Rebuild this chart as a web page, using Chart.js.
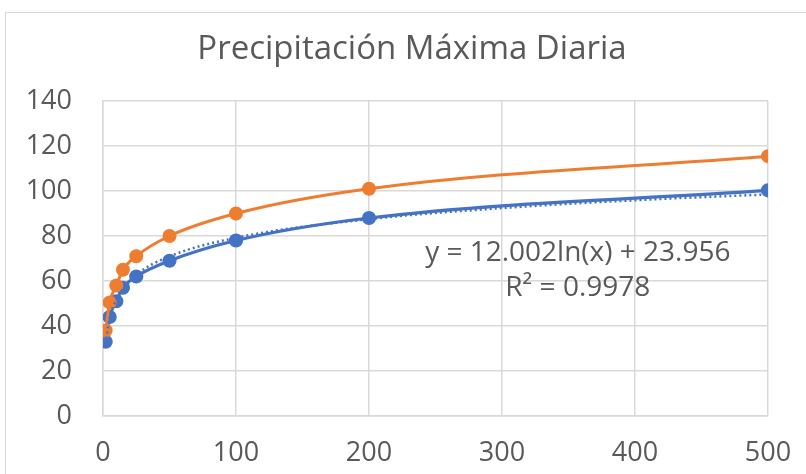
<!DOCTYPE html>
<html>
<head>
<meta charset="utf-8">
<script src="https://cdn.jsdelivr.net/npm/chart.js@4"></script>
<style>
  html, body { margin: 0; padding: 0; background: #fff; overflow: hidden; }
  #wrap { position: relative; width: 806px; height: 474px; }
  #frame { position: absolute; left: 5px; top: 12px; width: 820px; height: 480px; border: 1.5px solid #d9d9d9; box-sizing: border-box; }
  canvas { position: absolute; left: 0; top: 0; }
</style>
</head>
<body>
<div id="wrap">
  <div id="frame"></div>
  <canvas id="chart" width="806" height="474"></canvas>
</div>
<script>
// periodos de retorno (años)
const returnPeriods = [2, 5, 10, 15, 25, 50, 100, 200, 500];
// serie azul y serie naranja (mm)
const blueValues = [33, 44, 51, 57, 62, 69, 78, 88, 100.3];
const orangeValues = [38, 50.5, 58, 65, 71, 80, 90, 101, 115.5];
// línea de tendencia
const trendX = [2, 5, 10, 25, 50, 100, 200, 300, 400, 500];
const trendY = [32.3, 43.3, 51.6, 62.6, 70.9, 79.2, 87.5, 92.4, 95.9, 98.5];
const xTicks = [0, 100, 200, 300, 400, 500];
const yTicks = [0, 20, 40, 60, 80, 100, 120, 140];
const titleText = "Precipitación Máxima Diaria";
const trendLabel = ["y = 12.002ln(x) + 23.956", "R² = 0.9978"];

const FONT = "'Open Sans', sans-serif";
const GREY = "#595959";

function toPoints(xs, ys){
  return xs.map((x, i) => ({x: x, y: ys[i]}));
}

// titulo + ecuacion de la tendencia
const textLayer = {
  id: "textLayer",
  afterDraw(chart){
    const ctx = chart.ctx;
    const sx = chart.scales.x, sy = chart.scales.y;
    ctx.save();
    ctx.fillStyle = GREY;
    ctx.textAlign = "center";
    ctx.textBaseline = "middle";
    ctx.font = "33px " + FONT;
    ctx.fillText(titleText, 412, 50);
    ctx.font = "28px " + FONT;
    const x = sx.getPixelForValue(357);
    ctx.fillText(trendLabel[0], x, sy.getPixelForValue(72.3));
    ctx.fillText(trendLabel[1], x, sy.getPixelForValue(57));
    ctx.restore();
  }
};

new Chart(document.getElementById("chart"), {
  type: "scatter",
  data: {
    datasets: [
      {
        data: toPoints(trendX, trendY),
        showLine: true,
        borderColor: "#4472C4",
        borderWidth: 2.5,
        borderDash: [2, 3],
        pointRadius: 0,
        cubicInterpolationMode: "monotone"
      },
      {
        data: toPoints(returnPeriods, orangeValues),
        showLine: true,
        borderColor: "#ED7D31",
        backgroundColor: "#ED7D31",
        borderWidth: 3,
        pointRadius: 5.5,
        cubicInterpolationMode: "monotone"
      },
      {
        data: toPoints(returnPeriods, blueValues),
        showLine: true,
        borderColor: "#4472C4",
        backgroundColor: "#4472C4",
        borderWidth: 3.2,
        pointRadius: 5.5,
        cubicInterpolationMode: "monotone"
      }
    ]
  },
  options: {
    responsive: false,
    animation: false,
    layout: { padding: { top: 101, right: 38, bottom: 0, left: 0 } },
    plugins: {
      legend: { display: false },
      tooltip: { enabled: false },
      title: { display: false }
    },
    scales: {
      x: {
        type: "linear",
        min: 0, max: 500,
        afterFit: s => { s.height = 58; s.paddingLeft = 0; s.paddingRight = 0; },
        afterBuildTicks: s => { s.ticks = xTicks.map(v => ({value: v})); },
        grid: { color: "#d9d9d9", lineWidth: 1.5, drawTicks: false },
        border: { color: "#d9d9d9", width: 1.5 },
        ticks: { color: GREY, font: { family: FONT, size: 27 }, padding: 21 }
      },
      y: {
        min: 0, max: 140,
        afterFit: s => { s.width = 103; s.paddingTop = 0; s.paddingBottom = 0; },
        afterBuildTicks: s => { s.ticks = yTicks.map(v => ({value: v})); },
        grid: { color: "#d9d9d9", lineWidth: 1.5, drawTicks: false },
        border: { color: "#d9d9d9", width: 1.5 },
        ticks: { color: GREY, font: { family: FONT, size: 27 }, padding: 31 }
      }
    }
  },
  plugins: [textLayer]
});
</script>
</body>
</html>
